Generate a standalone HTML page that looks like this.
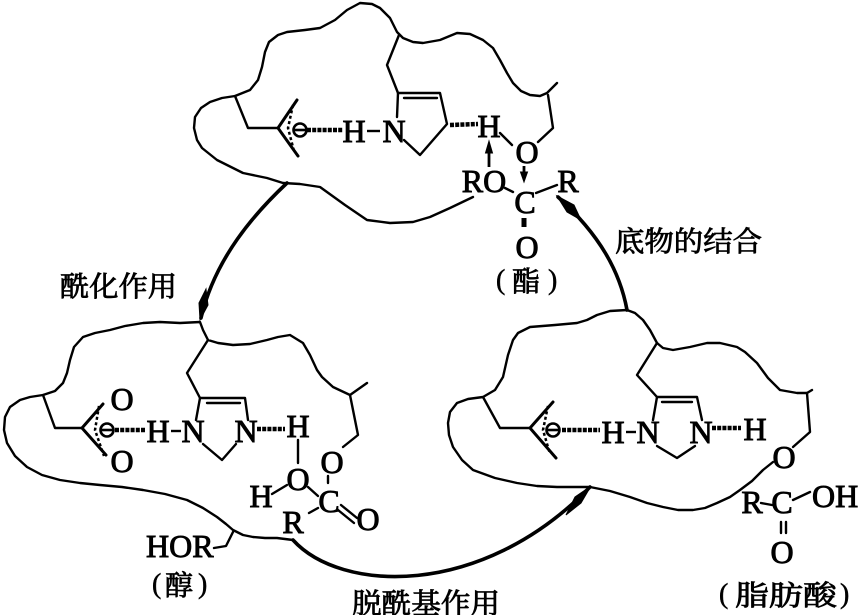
<!DOCTYPE html>
<html><head><meta charset="utf-8"><style>
html,body{margin:0;padding:0;background:#fff;}
svg{display:block;}
.l{font-family:"Liberation Serif",serif;font-size:32px;text-anchor:middle;fill:#000;stroke:#000;stroke-width:0.9;}
.s{font-family:"Liberation Serif",serif;font-size:32px;fill:#000;stroke:#000;stroke-width:0.9;}
.c{font-family:"Liberation Serif","Noto Serif CJK SC","Noto Sans CJK SC",serif;font-size:28px;fill:#000;stroke:#000;stroke-width:0.8;}
.p{font-family:"Liberation Serif",serif;font-size:28px;fill:#000;stroke:#000;stroke-width:0.5;}
</style></head><body>
<svg width="860" height="615" viewBox="0 0 860 615" xmlns="http://www.w3.org/2000/svg">
<rect width="860" height="615" fill="#fff"/>

<!-- outlines -->
<g fill="none" stroke="#000" stroke-width="2.4" stroke-linejoin="round" stroke-linecap="round">
<!-- top blob -->
<polyline points="473,197 450,208 430,217 413,222 390,223 367,220 345,205 320,187 300,184 283,183 267,178 243,173 217,160 202,148 197,140 194,128 195,117 201,108 210,102 222,98 235,96 250,90 258,80 262,67 265,52 269,42 278,35 287,32 305,30 320,28 335,20 347,10 360,3 372,4 380,8 390,18 397,32 403,38 413,42 423,43 440,40 457,33 470,34 483,40 493,48 500,60 507,73 513,83 521,91 530,95 540,96 547,93 557,83"/>
<!-- top blob inner chains -->
<polyline points="399,35 387,65 398,93 440,93 447,124 420,155 404,140"/>
<line x1="398" y1="93" x2="397" y2="117"/>
<line x1="404" y1="98" x2="437" y2="98"/>
<polyline points="235,96 248,128 278,128"/>
<polyline points="297,100 278,128 298,156" stroke-width="3"/>
<polyline points="538,142 553,128 548,95"/>
<line x1="500" y1="133" x2="512" y2="145"/>
<line x1="505" y1="188" x2="513" y2="192"/>
<line x1="536" y1="193" x2="557" y2="185"/>

<!-- left-middle blob -->
<polyline points="367,383 350,395 333,387 322,377 317,370 310,355 303,343 290,335 278,337 267,340 250,344 233,345 218,343 208,340 203,330 200,322 180,323 160,322 143,323 125,326 110,330 95,333 83,337 74,347 70,360 67,373 63,383 55,391 43,395 30,397 20,400 10,407 5,417 4,430 7,443 15,456 27,467 42,475 60,480 80,483 100,485 122,487 143,490 165,494 187,500 203,508 217,517 226,524 233,530 243,535 253,537 265,538 277,538 293,540"/>
<polyline points="208,340 187,373 200,398 245,398 248,420"/>
<line x1="200" y1="398" x2="196" y2="420"/>
<line x1="207" y1="403" x2="240" y2="403"/>
<polyline points="203,444 222,460 236,444"/>
<polyline points="43,395 55,428 82,428"/>
<polyline points="103,404 82,428 106,455" stroke-width="3"/>
<polyline points="350,395 358,435 343,447"/>
<line x1="298" y1="440" x2="298" y2="463"/>
<line x1="272" y1="494" x2="287" y2="485"/>
<line x1="308" y1="487" x2="318" y2="496"/>
<line x1="328" y1="476" x2="328" y2="483"/>
<line x1="341" y1="505" x2="357" y2="518"/>
<line x1="338" y1="510" x2="354" y2="523"/>
<line x1="318" y1="508" x2="309" y2="513"/>
<polyline points="214,548 226,546 233,532"/>

<!-- right blob -->
<polyline points="812,390 807,393 797,393 780,390 768,378 757,363 745,352 737,347 720,343 707,343 690,347 673,350 663,348 657,343 650,330 643,320 635,313 627,310 610,311 597,315 587,320 577,323 555,325 530,327 518,333 513,340 508,355 503,377 495,390 483,397 468,399 457,403 450,412 448,423 449,435 453,447 462,460 473,470 495,478 517,483 537,486 557,487 575,487 590,487 610,491 630,497 647,503 663,507 678,510 693,510 705,508 717,503 730,497 740,490 752,481 763,470 773,462"/>
<polyline points="657,343 637,375 657,397 697,397 702,420"/>
<line x1="657" y1="397" x2="653" y2="420"/>
<line x1="662" y1="402" x2="692" y2="402"/>
<polyline points="657,446 677,458 695,446"/>
<polyline points="483,397 500,428 530,428"/>
<polyline points="553,402 530,428 556,458" stroke-width="3"/>
<polyline points="793,447 810,432 807,393"/>
<line x1="761" y1="503" x2="772" y2="505"/>
<line x1="793" y1="500" x2="810" y2="492"/>
<line x1="781" y1="522" x2="781" y2="533"/>
<line x1="786" y1="522" x2="786" y2="533"/>
</g>

<!-- dotted / hashed bonds -->
<g fill="none" stroke="#000" stroke-linecap="butt">
<polyline points="293,105 288,128 294,151" stroke-width="2.5" stroke-dasharray="3 2.5"/>
<polyline points="99,406 95,430 104,456" stroke-width="2.5" stroke-dasharray="3 2.5"/>
<polyline points="548,406 543,430 550,454" stroke-width="2.5" stroke-dasharray="3 2.5"/>
<line x1="307" y1="130" x2="343" y2="130" stroke-width="4.5" stroke-dasharray="4 1.2"/>
<line x1="115" y1="430" x2="145" y2="430" stroke-width="4.5" stroke-dasharray="4 1.2"/>
<line x1="562" y1="430" x2="600" y2="430" stroke-width="4.5" stroke-dasharray="4 1.2"/>
<line x1="450" y1="125" x2="478" y2="124" stroke-width="4.5" stroke-dasharray="4 1.2"/>
<line x1="257" y1="429" x2="285" y2="429" stroke-width="4.5" stroke-dasharray="4 1.2"/>
<line x1="712" y1="428" x2="741" y2="428" stroke-width="4.5" stroke-dasharray="4 1.2"/>
</g>

<!-- theta symbols -->
<g fill="none" stroke="#000" stroke-width="2.6">
<circle cx="300" cy="130" r="6.5"/><line x1="293" y1="130" x2="307" y2="130"/>
<circle cx="107" cy="430" r="6.5"/><line x1="100" y1="430" x2="114" y2="430"/>
<circle cx="553" cy="430" r="6.5"/><line x1="546" y1="430" x2="560" y2="430"/>
</g>

<!-- hyphens -->
<g stroke="#000" stroke-width="2.4">
<line x1="367" y1="131" x2="380" y2="131"/>
<line x1="171" y1="431" x2="181" y2="431"/>
<line x1="626" y1="432" x2="636" y2="432"/>
</g>

<!-- small arrows in top blob -->
<g stroke="#000" stroke-width="2.8" fill="#000">
<line x1="489" y1="167" x2="489" y2="150"/>
<polygon points="485.5,153 492.5,153 489,141" stroke-width="1"/>
<line x1="524" y1="166" x2="524" y2="173"/>
<polygon points="520.5,172 527.5,172 524,182" stroke-width="1"/>
<rect x="521.5" y="218" width="5" height="9" stroke="none"/>
</g>

<!-- big arrows -->
<g fill="none" stroke="#000" stroke-width="3.6" stroke-linecap="round">
<path d="M287,183 C255,213 215,258 201,318"/>
<path d="M627,310 C620,272 600,235 558,197"/>
<path d="M293,540 C340,592 480,600 590,487"/>
</g>
<g fill="#000" stroke="#000" stroke-width="1">
<polygon points="206,289 208,305 200,320 199,303"/>
<polygon points="557,196 574,205 581,220 567,212"/>
<polygon points="591,486 581,503 566,515 575,497"/>
</g>

<!-- Latin labels -->
<text class="l" x="354" y="142">H</text>
<text class="l" x="394" y="142">N</text>
<text class="l" x="489" y="137">H</text>
<text class="l" x="527" y="163">O</text>
<text class="l" x="484" y="192">RO</text>
<text class="l" x="525" y="213">C</text>
<text class="l" x="568" y="192">R</text>
<text class="l" x="527" y="258">O</text>

<text class="l" x="158" y="442">H</text>
<text class="l" x="193" y="442">N</text>
<text class="l" x="246" y="442">N</text>
<text class="l" x="298" y="437">H</text>
<text class="l" x="122" y="410">O</text>
<text class="l" x="122" y="472">O</text>
<text class="l" x="298" y="490">O</text>
<text class="l" x="261" y="507">H</text>
<text class="l" x="329" y="512">C</text>
<text class="l" x="332" y="473">O</text>
<text class="l" x="368" y="530">O</text>
<text class="l" x="293" y="533">R</text>
<text class="s" x="146" y="557">HOR</text>

<text class="l" x="613" y="443">H</text>
<text class="l" x="648" y="443">N</text>
<text class="l" x="701" y="443">N</text>
<text class="l" x="755" y="440">H</text>
<text class="l" x="784" y="468">O</text>
<text class="l" x="752" y="513">R</text>
<text class="l" x="782" y="513">C</text>
<text class="s" x="812" y="507">OH</text>
<text class="l" x="782" y="563">O</text>

<!-- Chinese labels -->
<text class="c" x="60" y="296" textLength="117" lengthAdjust="spacingAndGlyphs">酰化作用</text>
<text class="c" x="615" y="251" textLength="147" lengthAdjust="spacingAndGlyphs">底物的结合</text>
<text class="c" x="352" y="613" textLength="148" lengthAdjust="spacingAndGlyphs">脱酰基作用</text>

<text class="p" x="496" y="289">(</text>
<text class="c" x="512" y="291">酯</text>
<text class="p" x="548" y="289">)</text>

<text class="p" x="152" y="593">(</text>
<text class="c" x="165" y="595">醇</text>
<text class="p" x="198" y="593">)</text>

<text class="p" x="719" y="603">(</text>
<text class="c" x="735" y="605" textLength="102" lengthAdjust="spacingAndGlyphs">脂肪酸</text>
<text class="p" x="840" y="603">)</text>
</svg>
</body></html>
